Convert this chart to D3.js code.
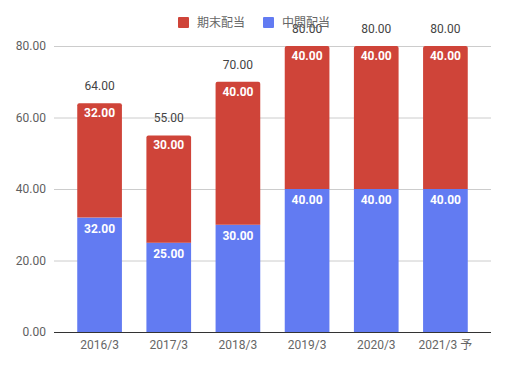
<!DOCTYPE html>
<html><head><meta charset="utf-8">
<script src="https://cdn.jsdelivr.net/npm/d3@7"></script>
<style>body{margin:0;background:#fff;} text{font-family:Roboto,"Noto Sans CJK JP",sans-serif;}</style>
</head><body><svg id="c" width="509" height="369"></svg>
<script>
const categories = ["2016/3","2017/3","2018/3","2019/3","2020/3","2021/3 予"];
const interim = [32,25,30,40,40,40];
const yearEnd = [32,30,40,40,40,40];
const yTicks = [0,20,40,60,80];
const seriesNames = ["期末配当","中間配当"];
const colors = {yearEnd:"#cf4439", interim:"#627bf2"};

const svg = d3.select("#c");
const x = d3.scaleBand().domain(categories).range([65,480]).paddingInner(0.354).paddingOuter(0.177);
const y = d3.scaleLinear().domain([0,80]).range([332,46]);

// gridlines
svg.append("g").selectAll("line").data(yTicks.filter(d=>d>0)).join("line")
  .attr("x1",54).attr("x2",491).attr("y1",d=>y(d)+0.5).attr("y2",d=>y(d)+0.5)
  .attr("stroke","#cccccc").attr("stroke-width",1);
// y labels
svg.append("g").selectAll("text").data(yTicks).join("text")
  .attr("x",46).attr("y",d=>y(d)+4).attr("text-anchor","end")
  .attr("font-size",12).attr("fill","#5f5f5f").text(d=>d.toFixed(2));

const data = categories.map((c,i)=>({c, a:interim[i], b:yearEnd[i], t:interim[i]+yearEnd[i]}));
const bw = x.bandwidth();
function roundTop(x0,y0,w,h,r){
  return `M${x0},${y0+h}V${y0+r}Q${x0},${y0} ${x0+r},${y0}H${x0+w-r}Q${x0+w},${y0} ${x0+w},${y0+r}V${y0+h}Z`;
}
// interim (bottom)
svg.append("g").selectAll("rect").data(data).join("rect")
  .attr("x",d=>x(d.c)).attr("y",d=>y(d.a)).attr("width",bw).attr("height",d=>y(0)-y(d.a))
  .attr("fill",colors.interim);
// yearEnd (top)
svg.append("g").selectAll("path").data(data).join("path")
  .attr("d",d=>roundTop(x(d.c), y(d.t), bw, y(d.a)-y(d.t), 2))
  .attr("fill",colors.yearEnd);

// inside labels
svg.append("g").selectAll("text").data(data).join("text")
  .attr("x",d=>x(d.c)+bw/2).attr("y",d=>y(d.a)+15).attr("text-anchor","middle")
  .attr("font-size",12).attr("font-weight","bold").attr("fill","#fff").text(d=>d.a.toFixed(2));
svg.append("g").selectAll("text").data(data).join("text")
  .attr("x",d=>x(d.c)+bw/2).attr("y",d=>y(d.t)+14).attr("text-anchor","middle")
  .attr("font-size",12).attr("font-weight","bold").attr("fill","#fff").text(d=>d.b.toFixed(2));
// totals
svg.append("g").selectAll("text").data(data).join("text")
  .attr("x",d=>x(d.c)+bw/2).attr("y",d=>y(d.t)-13).attr("text-anchor","middle")
  .attr("font-size",12).attr("fill","#444").text(d=>d.t.toFixed(2));

// baseline
svg.append("line").attr("x1",54).attr("x2",491).attr("y1",y(0)+0.5).attr("y2",y(0)+0.5)
  .attr("stroke","#333").attr("stroke-width",1);
// x labels
svg.append("g").selectAll("text").data(categories).join("text")
  .attr("x",d=>x(d)+bw/2).attr("y",349).attr("text-anchor","middle")
  .attr("font-size",12).attr("fill","#666").text(d=>d);

// legend
const leg = [{n:seriesNames[0],c:colors.yearEnd,x:178},{n:seriesNames[1],c:colors.interim,x:263}];
const lg = svg.append("g");
lg.selectAll("rect").data(leg).join("rect")
  .attr("x",d=>d.x).attr("y",17).attr("width",11).attr("height",11).attr("rx",1).attr("fill",d=>d.c);
lg.selectAll("text").data(leg).join("text")
  .attr("x",d=>d.x+19).attr("y",27).attr("font-size",12).attr("fill","#666").text(d=>d.n);
</script></body></html>
